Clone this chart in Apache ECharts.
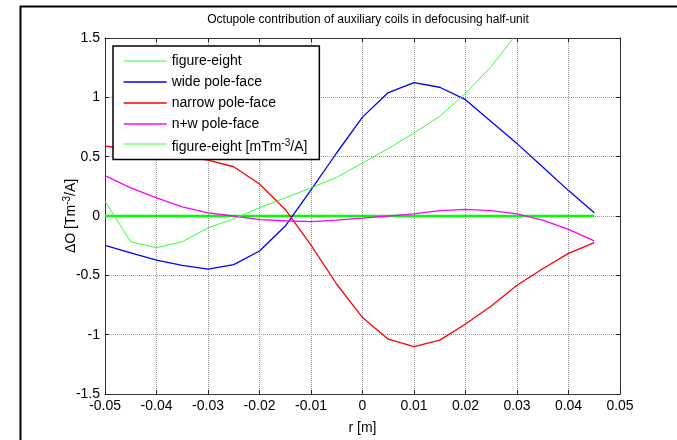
<!DOCTYPE html>
<html lang="en">

<head>
  <meta charset="UTF-8">
  <title>Octupole contribution</title>
  <style>
    body { margin: 0; background: #fff; }
  </style>
</head>

<body>
  <div id="main" style="width: 677px;height:440px;"></div>

  <script src="https://cdn.jsdelivr.net/npm/echarts@6/dist/echarts.min.js"></script>

  <script type="text/javascript">
    // radius positions [m]
    var rValues = [-0.05, -0.045, -0.04, -0.035, -0.03, -0.025, -0.02, -0.015, -0.01, -0.005,
      0, 0.005, 0.01, 0.015, 0.02, 0.025, 0.03, 0.035, 0.04, 0.045];

    // octupole contribution [Tm^-3/A]
    var figureEight = [0, 0, 0, 0, 0, 0, 0, 0, 0, 0, 0, 0, 0, 0, 0, 0, 0, 0, 0, 0];
    var widePoleFace = [-0.248, -0.31, -0.371, -0.416, -0.447, -0.41, -0.295, -0.085, 0.22, 0.533,
      0.833, 1.04, 1.124, 1.085, 0.98, 0.794, 0.61, 0.413, 0.214, 0.027];
    var narrowPoleFace = [0.59, 0.56, 0.53, 0.5, 0.47, 0.415, 0.27, 0.055, -0.245, -0.575,
      -0.856, -1.038, -1.1, -1.046, -0.91, -0.758, -0.584, -0.444, -0.315, -0.225];
    var nwPoleFace = [0.34, 0.237, 0.153, 0.077, 0.027, 0, -0.03, -0.04, -0.048, -0.035,
      -0.018, 0, 0.018, 0.046, 0.055, 0.046, 0.018, -0.035, -0.113, -0.21];
    // figure-eight in mTm^-3/A, runs off the top after 0.03
    var figureEightMilli = [0.125, -0.217, -0.267, -0.217, -0.1, -0.024, 0.069, 0.153, 0.237, 0.326,
      0.447, 0.567, 0.7, 0.84, 1.035, 1.26, 1.54, null, null, null];

    var seriesNames = ['figure-eight', 'wide pole-face', 'narrow pole-face', 'n+w pole-face',
      'figure-eight [mTm-3/A]'];

    var myChart = echarts.init(document.getElementById('main'));
    myChart.setOption(setOption());

    function pairs(values) {
      return rValues.map(function (r, i) {
        return [r, values[i]];
      });
    }

    function setOption() {
      var font = 'Liberation Sans, Arial, sans-serif';
      var gridLine = {
        show: true,
        lineStyle: { color: '#9a9a9a', width: 1, type: [1, 1] }
      };
      var boxLine = { show: true, onZero: false, lineStyle: { color: '#333', width: 1 } };
      var tick = { show: true, inside: true, length: 4, lineStyle: { color: '#222' } };

      function lineSeries(name, values, color, width, z) {
        return {
          name: name,
          type: 'line',
          data: pairs(values),
          symbol: 'none',
          showSymbol: false,
          clip: true,
          connectNulls: false,
          animation: false,
          z: z,
          lineStyle: { color: color, width: width },
          itemStyle: { color: color }
        };
      }

      return {
        backgroundColor: '#fff',
        textStyle: { fontFamily: font },
        title: {
          text: 'Octupole contribution of auxiliary coils in defocusing half-unit',
          left: 363,
          textAlign: 'center',
          top: 9,
          textStyle: { fontSize: 12, fontWeight: 'normal', color: '#000', fontFamily: font }
        },
        // the black figure frame, open to the right and bottom
        graphic: [{
          type: 'rect',
          left: 18,
          top: 4,
          shape: { width: 720, height: 500 },
          style: { fill: 'none', stroke: '#000', lineWidth: 2 },
          z: -1
        }],
        grid: {
          left: 105,
          top: 38,
          right: 57,
          bottom: 45,
          containLabel: false
        },
        legend: {
          orient: 'vertical',
          left: 113,
          top: 46,
          padding: [8, 12, 5, 10],
          itemGap: 7,
          itemWidth: 43,
          itemHeight: 14,
          borderColor: '#000',
          borderWidth: 1.5,
          backgroundColor: '#fff',
          z: 10,
          itemStyle: { color: 'rgba(0,0,0,0)', borderWidth: 0 },
          lineStyle: { width: 1.3 },
          textStyle: {
            fontSize: 14,
            color: '#000',
            fontFamily: font,
            rich: {
              sup: { fontSize: 10, padding: [0, 0, 9, 0], color: '#000', fontFamily: font }
            }
          },
          formatter: function (name) {
            if (name === seriesNames[4]) {
              return 'figure-eight [mTm{sup|-3}/A]';
            }
            return name;
          },
          data: [
            { name: seriesNames[0], lineStyle: { width: 1, color: '#33ff33' } },
            { name: seriesNames[1] },
            { name: seriesNames[2] },
            { name: seriesNames[3] },
            {
              name: seriesNames[4],
              lineStyle: { width: 1 },
              textStyle: { padding: [7, 0, 0, 0] }
            }
          ]
        },
        xAxis: [{
          type: 'value',
          min: -0.05,
          max: 0.05,
          interval: 0.01,
          name: 'r [m]',
          nameLocation: 'middle',
          nameGap: 27,
          nameMoveOverlap: false,
          nameTextStyle: { fontSize: 14, color: '#000', fontFamily: font },
          axisLine: boxLine,
          axisTick: tick,
          axisLabel: {
            fontSize: 14,
            color: '#000',
            margin: 5,
            formatter: function (v) {
              return String(+v.toFixed(3));
            }
          },
          splitLine: gridLine
        }, {
          type: 'value',
          position: 'top',
          min: -0.05,
          max: 0.05,
          interval: 0.01,
          axisLine: boxLine,
          axisTick: tick,
          axisLabel: { show: false },
          splitLine: { show: false }
        }],
        yAxis: [{
          type: 'value',
          min: -1.5,
          max: 1.5,
          interval: 0.5,
          name: 'ΔO [Tm{sup|-3}/A]',
          nameLocation: 'middle',
          nameRotate: 90,
          nameGap: 25,
          nameMoveOverlap: false,
          nameTextStyle: {
            fontSize: 14,
            color: '#000',
            fontFamily: font,
            rich: {
              sup: { fontSize: 10, padding: [0, 0, 8, 0], color: '#000', fontFamily: font }
            }
          },
          axisLine: boxLine,
          axisTick: tick,
          axisLabel: {
            fontSize: 14,
            color: '#000',
            margin: 5,
            formatter: function (v) {
              return String(+v.toFixed(2));
            }
          },
          splitLine: gridLine
        }, {
          type: 'value',
          position: 'right',
          min: -1.5,
          max: 1.5,
          interval: 0.5,
          axisLine: boxLine,
          axisTick: tick,
          axisLabel: { show: false },
          splitLine: { show: false }
        }],
        series: [
          lineSeries(seriesNames[0], figureEight, '#00ff00', 2.5, 2),
          lineSeries(seriesNames[1], widePoleFace, '#0000ff', 1.3, 3),
          lineSeries(seriesNames[2], narrowPoleFace, '#ff0000', 1.3, 4),
          lineSeries(seriesNames[3], nwPoleFace, '#ff00ff', 1.3, 5),
          lineSeries(seriesNames[4], figureEightMilli, '#33ff33', 1, 6)
        ]
      };
    }
  </script>
</body>

</html>
